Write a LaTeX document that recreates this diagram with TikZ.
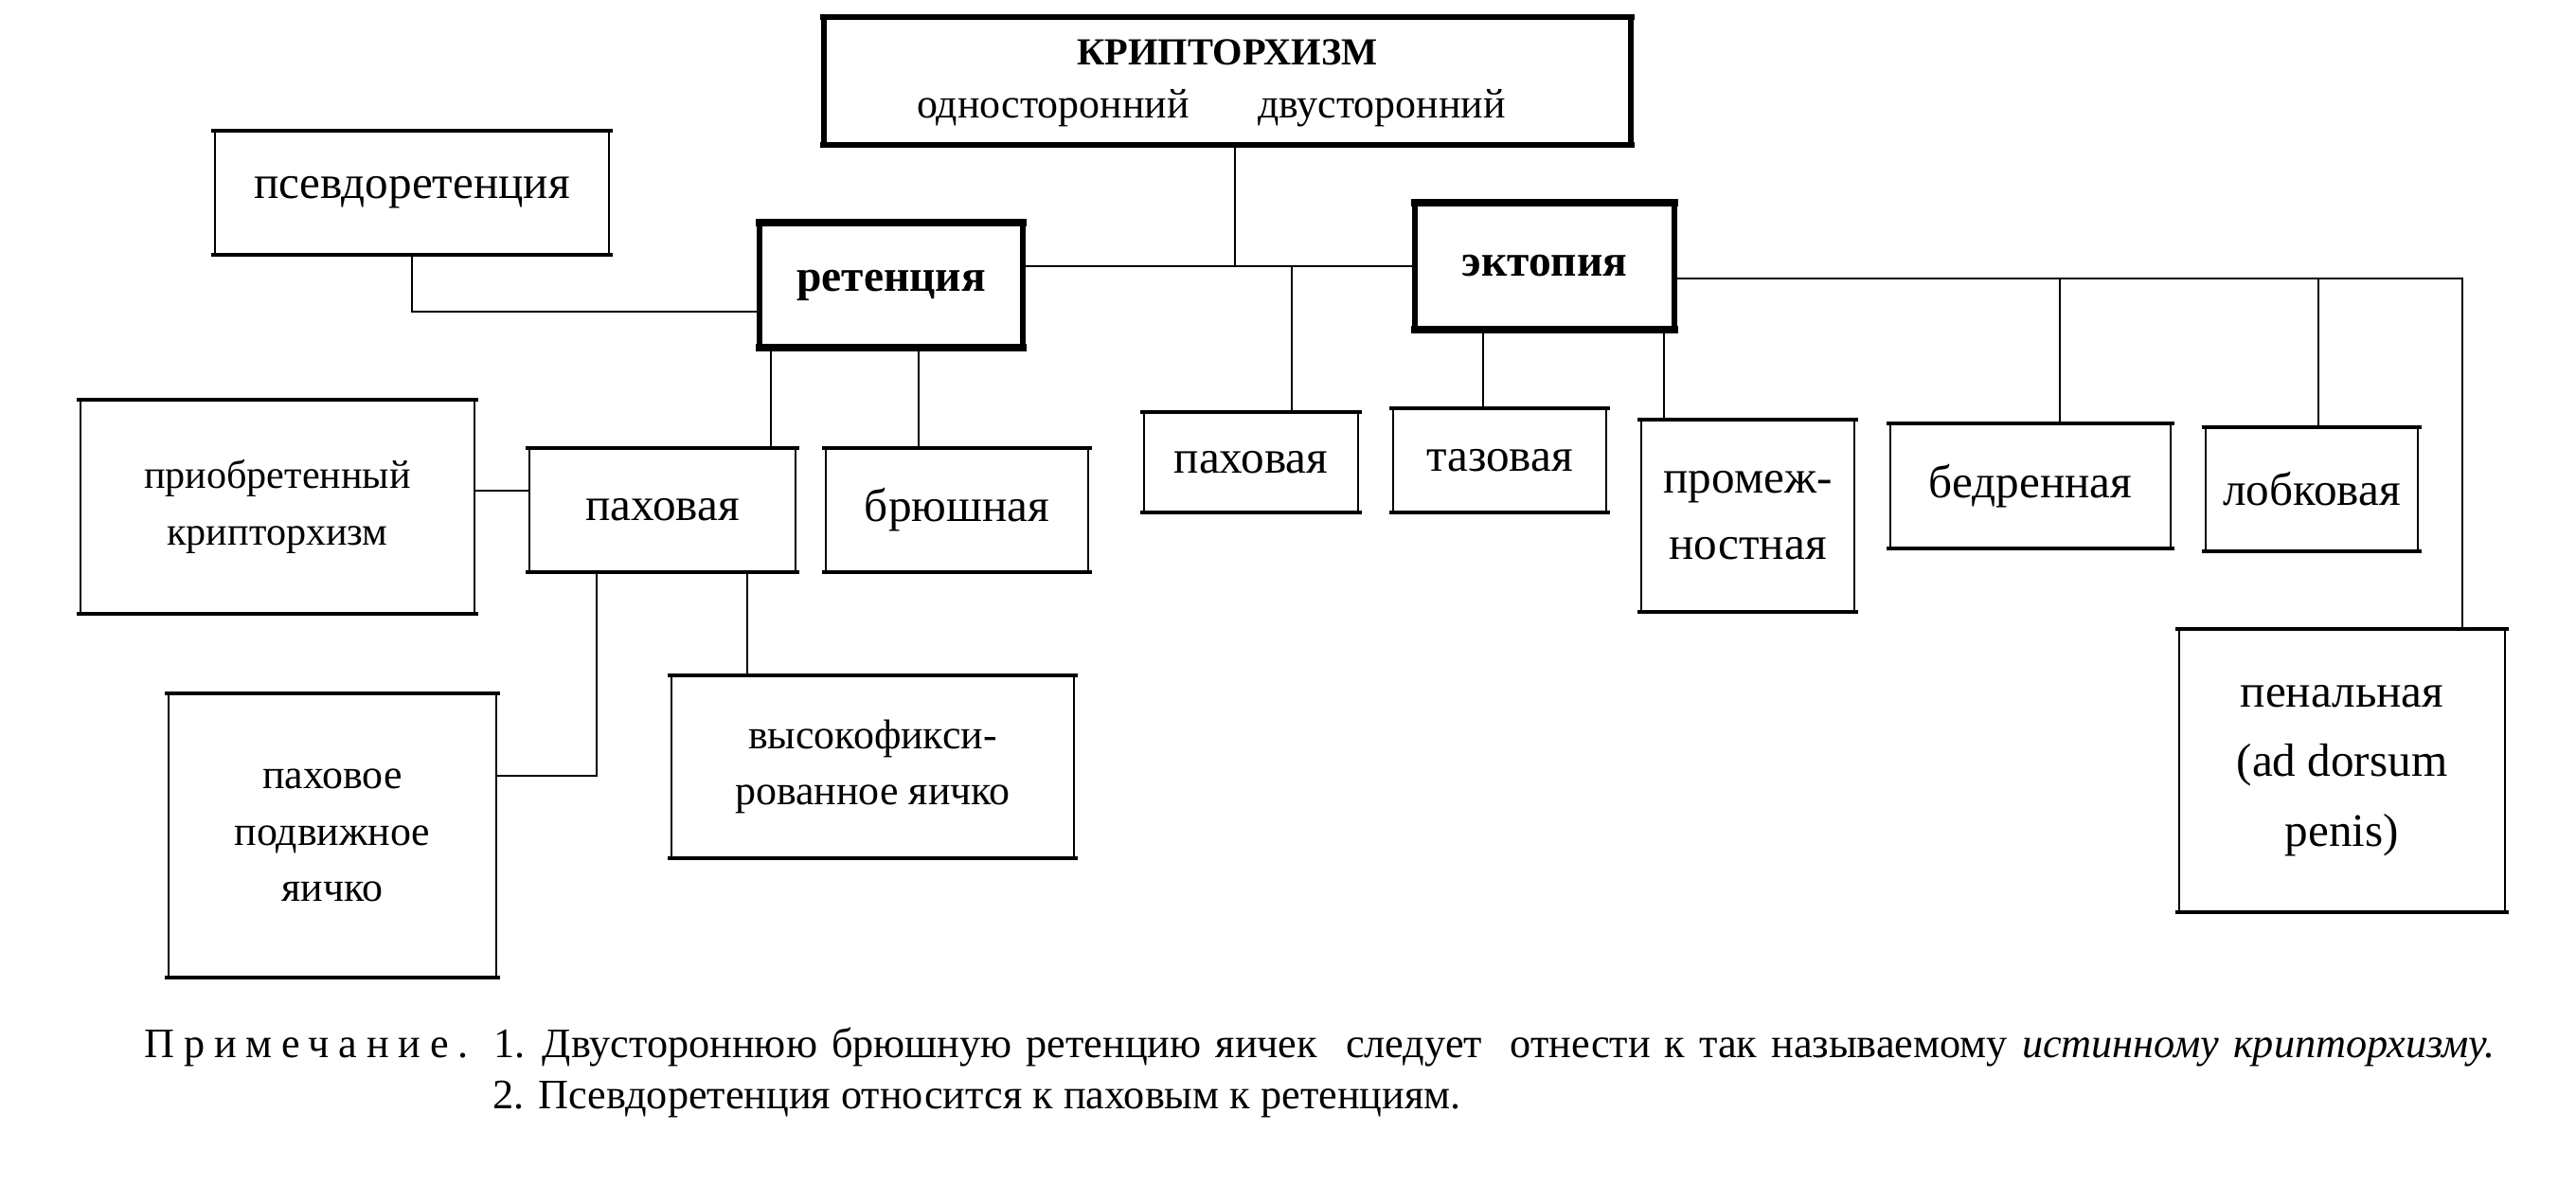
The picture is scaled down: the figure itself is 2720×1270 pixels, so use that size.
\documentclass[tikz,border=0pt]{standalone}
\usepackage{fontspec}
\setmainfont{Liberation Serif}
\usetikzlibrary{calc}
\tikzset{
  boxn/.style={inner sep=0pt, outer sep=0pt, align=center, font=\fontsize{14}{20}\selectfont},
  smalltxt/.style={font=\fontsize{12.5}{17}\selectfont},
  boldtxt/.style={font=\bfseries\fontsize{13.5}{16}\selectfont},
  conn/.style={line width=0.8pt},
  notetxt/.style={anchor=base west, inner sep=0pt, font=\fontsize{12.6}{16}\selectfont}
}
\newcommand\mybox[7][]{\node[boxn,#1,minimum width={(#5-#3)*0.284528pt}, minimum height={(#6-#4)*0.284528pt}] (#2) at ({(#3+#5)/2},{(#4+#6)/2}) {#7};}
\newcommand\frm[3]{%
  \draw[line width=#2] ($(#1.north west)+(-4,0)$) -- ($(#1.north east)+(4,0)$);
  \draw[line width=#2] ($(#1.south west)+(-4,0)$) -- ($(#1.south east)+(4,0)$);
  \draw[line width=#3] (#1.north west) -- (#1.south west);
  \draw[line width=#3] (#1.north east) -- (#1.south east);}
\begin{document}
\begin{tikzpicture}[x=0.1mm,y=-0.1mm]
\useasboundingbox (0,0) rectangle (2720,1270);
% boxes
\mybox{top}{870}{18}{1722}{153}{}
\node[inner sep=0pt,font=\bfseries\fontsize{11.5}{14}\selectfont] (tt) at (1296,55) {КРИПТОРХИЗМ};
\node[inner sep=0pt,font=\fontsize{12.5}{15}\selectfont] (one) at (1112,114) {односторонний};
\node[inner sep=0pt,font=\fontsize{12.5}{15}\selectfont] (two) at (1459,114) {двусторонний};
\mybox{pseudo}{227}{138}{643}{269}{псевдоретенция}
\mybox[boldtxt]{ret}{802}{235}{1080}{367}{ретенция}
\mybox[boldtxt]{ekt}{1494}{214}{1768}{348}{эктопия}
\mybox[font=\fontsize{12}{17}\selectfont]{acq}{85}{422}{501}{648}{приобретенный\\крипторхизм}
\mybox{pahr}{559}{473}{840}{604}{паховая}
\mybox{bru}{872}{473}{1149}{604}{брюшная}
\mybox{pahe}{1208}{435}{1434}{541}{паховая}
\mybox{taz}{1471}{431}{1696}{541}{тазовая}
\mybox{prom}{1733}{443}{1958}{646}{промеж-\\ностная}
\mybox{bed}{1996}{447}{2292}{579}{бедренная}
\mybox{lob}{2329}{451}{2553}{582}{лобковая}
\mybox[font=\fontsize{14}{21}\selectfont]{pen}{2301}{664}{2645}{963}{пенальная\\(ad dorsum\\penis)}
\mybox[smalltxt]{mob}{178}{732}{524}{1032}{паховое\\подвижное\\яичко}
\mybox[smalltxt]{high}{709}{713}{1134}{906}{высокофикси-\\рованное яичко}
% frames
\frm{top}{1.5pt}{1.7pt}
\frm{ret}{2.1pt}{1.7pt}
\frm{ekt}{2.1pt}{1.7pt}
\foreach \b in {pseudo,acq,pahr,bru,pahe,taz,prom,bed,lob,pen,mob,high}{\frm{\b}{1pt}{0.75pt}}
% helper coordinates
\coordinate (hub) at (1304,281);
\coordinate (rh) at (2600,294);
\coordinate (x814) at (814,0);
\coordinate (x970) at (970,0);
\coordinate (x630) at (630,0);
\coordinate (x789) at (789,0);
\coordinate (x1364) at (1364,0);
\coordinate (x1566) at (1566,0);
\coordinate (x1757) at (1757,0);
\coordinate (x2175) at (2175,0);
\coordinate (x2448) at (2448,0);
\coordinate (y518) at (0,518);
\coordinate (y819) at (0,819);
% connectors
\draw[conn] (top.south -| hub) -- (hub);
\draw[conn] (ret.east |- hub) -- (ekt.west |- hub);
\draw[conn] (pseudo.south) |- ($(ret.west)+(0,28)$);
\draw[conn] (ret.south -| x814) -- (pahr.north -| x814);
\draw[conn] (ret.south -| x970) -- (bru.north -| x970);
\draw[conn] (acq.east |- y518) -- (pahr.west |- y518);
\draw[conn] (pahr.south -| x630) |- (mob.east |- y819);
\draw[conn] (pahr.south -| x789) -- (high.north -| x789);
\draw[conn] (x1364 |- hub) -- (pahe.north -| x1364);
\draw[conn] (ekt.south -| x1566) -- (taz.north -| x1566);
\draw[conn] (ekt.south -| x1757) -- (prom.north -| x1757);
\draw[conn] (ekt.east |- rh) -- (rh) -- (pen.north -| rh);
\draw[conn] (x2175 |- rh) -- (bed.north -| x2175);
\draw[conn] (x2448 |- rh) -- (lob.north -| x2448);
% note
\node[notetxt] (n1) at (152,1116) {{\addfontfeature{LetterSpace=22}Примечание.}\hspace{0.6em}{\spaceskip=4.25pt 1. Двустороннюю брюшную ретенцию яичек\ \ следует\ \ отнести к так называемому \textit{истинному крипторхизму.}}};
\node[notetxt] (n2) at (520,1170) {2. Псевдоретенция относится к паховым к ретенциям.};
\end{tikzpicture}
\end{document}
